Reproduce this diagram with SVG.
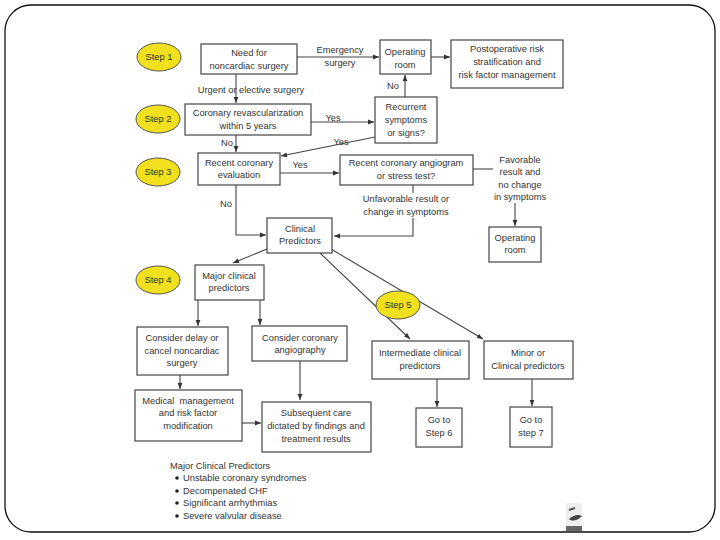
<svg xmlns="http://www.w3.org/2000/svg" width="720" height="540" viewBox="0 0 720 540">
<defs>
<marker id="ah" viewBox="0 0 10 10" refX="10" refY="5" markerWidth="7" markerHeight="6" orient="auto" markerUnits="userSpaceOnUse">
<path d="M0,1 L10,5 L0,9 z" fill="#333"/>
</marker>
<style>
.b{fill:#fff;stroke:#444;stroke-width:1.2}
.s{fill:#f0e01e;stroke:#555;stroke-width:1}
.t{font-family:"Liberation Sans",Arial,sans-serif;font-size:9.3px;fill:#333;text-anchor:middle}
.l{font-family:"Liberation Sans",Arial,sans-serif;font-size:9.3px;fill:#333}
.c{fill:none;stroke:#444;stroke-width:1.1}
.a{fill:none;stroke:#444;stroke-width:1.1;marker-end:url(#ah)}
</style>
</defs>
<rect x="0" y="0" width="720" height="540" fill="#fff"/>
<rect x="5" y="5" width="710" height="527" rx="26" ry="26" fill="none" stroke="#111" stroke-width="1.3"/>

<g id="connectors">
<line class="a" x1="297" y1="57" x2="379" y2="57"/>
<line class="a" x1="431" y1="57" x2="450" y2="57"/>
<line class="a" x1="236" y1="74" x2="236" y2="103"/>
<line class="a" x1="311" y1="122" x2="374" y2="122"/>
<line class="a" x1="405" y1="97" x2="405" y2="75"/>
<line class="a" x1="375" y1="137" x2="281" y2="156"/>
<line class="a" x1="236" y1="135" x2="236" y2="152"/>
<line class="a" x1="280" y1="173" x2="339" y2="173"/>
<line class="c" x1="473" y1="169" x2="493" y2="169"/>
<line class="a" x1="515" y1="203" x2="515" y2="226"/>
<line class="c" x1="413" y1="185" x2="413" y2="193"/>
<polyline class="a" points="413,218 413,236 334,236"/>
<polyline class="a" points="236,185 236,235 266,235"/>
<line class="a" x1="267" y1="249" x2="233" y2="263"/>
<line class="a" x1="320" y1="253" x2="410" y2="339"/>
<line class="a" x1="331" y1="249" x2="483" y2="339"/>
<line class="a" x1="198" y1="300" x2="198" y2="326"/>
<line class="a" x1="260" y1="300" x2="260" y2="325"/>
<line class="a" x1="180" y1="375" x2="180" y2="389"/>
<line class="a" x1="300" y1="361" x2="300" y2="400"/>
<line class="a" x1="242" y1="423" x2="261" y2="423"/>
<line class="a" x1="437" y1="379" x2="437" y2="407"/>
<line class="a" x1="532" y1="379" x2="532" y2="406"/>
</g>

<g id="edge-labels">
<text class="t" x="340" y="53">Emergency</text>
<text class="t" x="340" y="66">surgery</text>
<text class="t" x="251" y="93">Urgent or elective surgery</text>
<text class="t" x="333" y="121">Yes</text>
<text class="t" x="393" y="89">No</text>
<text class="t" x="341" y="145">Yes</text>
<text class="t" x="227" y="146">No</text>
<text class="t" x="300" y="168">Yes</text>
<text class="t" x="520" y="163">Favorable</text>
<text class="t" x="520" y="175">result and</text>
<text class="t" x="520" y="188">no change</text>
<text class="t" x="520" y="200">in symptoms</text>
<text class="t" x="406" y="202">Unfavorable result or</text>
<text class="t" x="406" y="215">change in symptoms</text>
<text class="t" x="226" y="207">No</text>
</g>

<g id="step1"><ellipse class="s" cx="159" cy="57" rx="22" ry="14"/><text class="t" x="159" y="60">Step 1</text></g>
<g id="step2"><ellipse class="s" cx="158" cy="119" rx="22" ry="14"/><text class="t" x="158" y="122">Step 2</text></g>
<g id="step3"><ellipse class="s" cx="158" cy="172" rx="22" ry="14"/><text class="t" x="158" y="175">Step 3</text></g>
<g id="step4"><ellipse class="s" cx="158" cy="280" rx="22" ry="14"/><text class="t" x="158" y="283">Step 4</text></g>
<g id="step5"><ellipse class="s" cx="398" cy="305" rx="22" ry="14"/><text class="t" x="398" y="308">Step 5</text></g>

<g id="need"><rect class="b" x="201" y="44" width="96" height="30"/><text class="t" x="249" y="56">Need for</text><text class="t" x="249" y="69">noncardiac surgery</text></g>
<g id="or1"><rect class="b" x="380" y="40" width="51" height="34"/><text class="t" x="405" y="55">Operating</text><text class="t" x="405" y="68">room</text></g>
<g id="postop"><rect class="b" x="451" y="40" width="112" height="48"/><text class="t" x="507" y="52">Postoperative risk</text><text class="t" x="507" y="65">stratification and</text><text class="t" x="507" y="78">risk factor management</text></g>
<g id="revasc"><rect class="b" x="185" y="104" width="126" height="31"/><text class="t" x="248" y="116">Coronary revascularization</text><text class="t" x="248" y="129">within 5 years</text></g>
<g id="recurrent"><rect class="b" x="375" y="97" width="62" height="46"/><text class="t" x="406" y="110">Recurrent</text><text class="t" x="406" y="123">symptoms</text><text class="t" x="406" y="136">or signs?</text></g>
<g id="eval"><rect class="b" x="198" y="153" width="82" height="32"/><text class="t" x="239" y="166">Recent coronary</text><text class="t" x="239" y="178">evaluation</text></g>
<g id="angio"><rect class="b" x="340" y="155" width="133" height="30"/><text class="t" x="406" y="166">Recent coronary angiogram</text><text class="t" x="406" y="179">or stress test?</text></g>
<g id="or2"><rect class="b" x="489" y="227" width="52" height="35"/><text class="t" x="515" y="241">Operating</text><text class="t" x="515" y="253">room</text></g>
<g id="clinical"><rect class="b" x="267" y="218" width="65" height="35"/><text class="t" x="300" y="232">Clinical</text><text class="t" x="300" y="244">Predictors</text></g>
<g id="major"><rect class="b" x="195" y="265" width="69" height="35"/><text class="t" x="229" y="279">Major clinical</text><text class="t" x="229" y="291">predictors</text></g>
<g id="delay"><rect class="b" x="137" y="327" width="91" height="48"/><text class="t" x="182" y="341">Consider delay or</text><text class="t" x="182" y="354">cancel noncardiac</text><text class="t" x="182" y="366">surgery</text></g>
<g id="angiography"><rect class="b" x="252" y="326" width="95" height="35"/><text class="t" x="300" y="341">Consider coronary</text><text class="t" x="300" y="353">angiography</text></g>
<g id="medical"><rect class="b" x="135" y="390" width="107" height="51"/><text class="t" x="188" y="404" xml:space="preserve">Medical  management</text><text class="t" x="188" y="416">and risk factor</text><text class="t" x="188" y="429">modification</text></g>
<g id="subsequent"><rect class="b" x="262" y="402" width="109" height="50"/><text class="t" x="316" y="416">Subsequent care</text><text class="t" x="316" y="429">dictated by findings and</text><text class="t" x="316" y="442">treatment results</text></g>
<g id="intermediate"><rect class="b" x="372" y="341" width="97" height="38"/><text class="t" x="420" y="356">Intermediate clinical</text><text class="t" x="420" y="369">predictors</text></g>
<g id="minor"><rect class="b" x="484" y="341" width="89" height="38"/><text class="t" x="528" y="356">Minor or</text><text class="t" x="528" y="369">Clinical predictors</text></g>
<g id="step6"><rect class="b" x="416" y="408" width="46" height="39"/><text class="t" x="439" y="423">Go to</text><text class="t" x="439" y="436">Step 6</text></g>
<g id="step7"><rect class="b" x="510" y="407" width="42" height="40"/><text class="t" x="531" y="423">Go to</text><text class="t" x="531" y="436">step 7</text></g>

<g id="legend">
<text class="l" x="170" y="469">Major Clinical Predictors</text>
<circle cx="177" cy="478" r="1.8" fill="#222"/><text class="l" x="183" y="481">Unstable coronary syndromes</text>
<circle cx="177" cy="491" r="1.8" fill="#222"/><text class="l" x="183" y="494">Decompenated CHF</text>
<circle cx="177" cy="503" r="1.8" fill="#222"/><text class="l" x="183" y="506">Significant arrhythmias</text>
<circle cx="177" cy="516" r="1.8" fill="#222"/><text class="l" x="183" y="519">Severe valvular disease</text>
</g>

<g id="logo">
<rect x="566" y="503" width="16" height="28" fill="#eee"/>
<path d="M569,510 L575,508" stroke="#555" stroke-width="2" fill="none"/>
<path d="M569,519 Q576,513 582,516 Q576,522 570,520 z" fill="#444"/>
<rect x="566" y="526" width="16" height="5" fill="#666"/>
</g>
</svg>
